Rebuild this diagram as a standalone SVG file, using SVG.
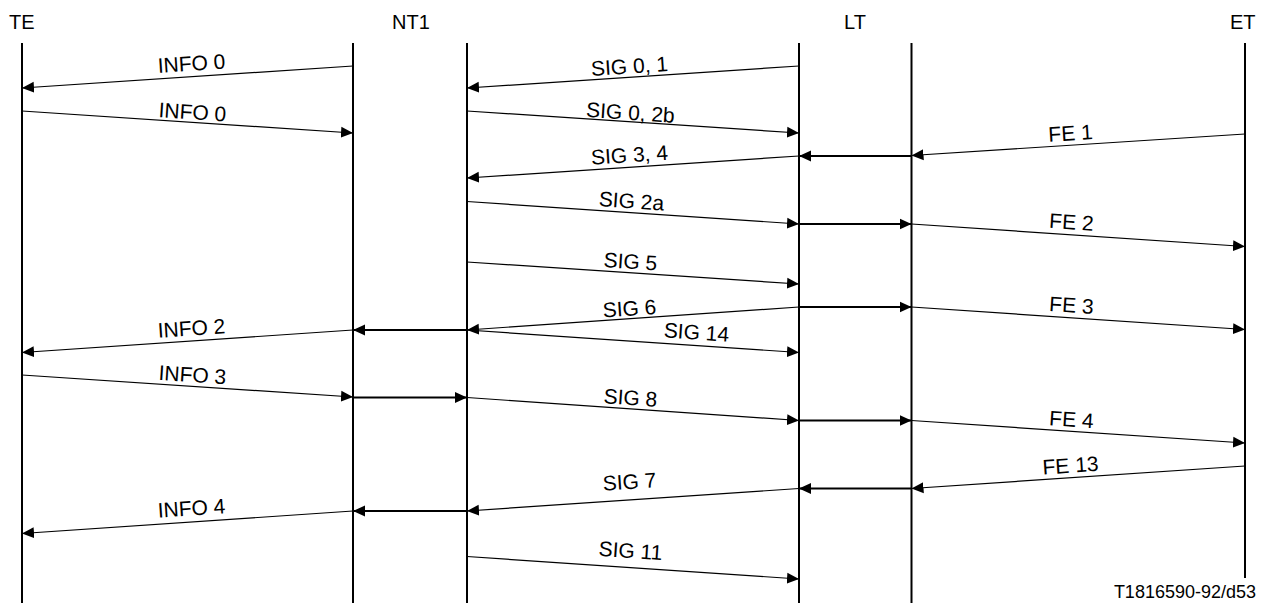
<svg xmlns="http://www.w3.org/2000/svg" width="1263" height="603" viewBox="0 0 1263 603">
<style>
  text { font-family: "Liberation Sans", Arial, sans-serif; fill: #000; }
  .hdr { font-size: 20px; }
  .lbl { font-size: 21px; text-anchor: middle; }
  .foot { font-size: 18px; text-anchor: end; }
  .life { stroke: #000; stroke-width: 2; fill: none; }
  .msg { stroke: #000; stroke-width: 1.2; fill: none; marker-end: url(#ah); }
  .relay { stroke: #000; stroke-width: 2; fill: none; marker-end: url(#ah); }
</style>
<defs>
  <marker id="ah" viewBox="0 0 12 12" markerWidth="12" markerHeight="12" markerUnits="userSpaceOnUse" refX="12" refY="6" orient="auto">
    <path d="M0,0.5 L12,6 L0,11.5 z" fill="#000"/>
  </marker>
</defs>
<rect width="1263" height="603" fill="#fff"/>

<g id="TE">
  <text class="hdr" x="9" y="29">TE</text>
  <line class="life" x1="22" y1="43" x2="22" y2="603"/>
</g>
<g id="NT1">
  <text class="hdr" x="392" y="29">NT1</text>
  <line class="life" x1="353" y1="43" x2="353" y2="603"/>
  <line class="life" x1="467" y1="43" x2="467" y2="603"/>
</g>
<g id="LT">
  <text class="hdr" x="844" y="29">LT</text>
  <line class="life" x1="799" y1="43" x2="799" y2="603"/>
  <line class="life" x1="911.5" y1="43" x2="911.5" y2="603"/>
</g>
<g id="ET">
  <text class="hdr" x="1230" y="29">ET</text>
  <line class="life" x1="1245" y1="43" x2="1245" y2="578"/>
</g>

<g id="connectors">
  <line class="msg" x1="353" y1="66" x2="22" y2="88"/>
  <line class="msg" x1="22" y1="111" x2="353" y2="133"/>
  <line class="msg" x1="799" y1="66" x2="467" y2="88"/>
  <line class="msg" x1="467" y1="111" x2="799" y2="133"/>
  <line class="msg" x1="1245" y1="134" x2="911.5" y2="155.5"/>
  <line class="relay" x1="911.5" y1="156" x2="799" y2="156"/>
  <line class="msg" x1="799" y1="156" x2="467" y2="178"/>
  <line class="msg" x1="467" y1="201.5" x2="799" y2="224"/>
  <line class="relay" x1="799" y1="224" x2="911.5" y2="224"/>
  <line class="msg" x1="911.5" y1="224" x2="1245" y2="246.5"/>
  <line class="msg" x1="467" y1="262" x2="799" y2="284"/>
  <line class="msg" x1="799" y1="307" x2="467" y2="330"/>
  <line class="relay" x1="799" y1="307" x2="911.5" y2="307"/>
  <line class="msg" x1="911.5" y1="307" x2="1245" y2="329.5"/>
  <line class="relay" x1="467" y1="330" x2="353" y2="330"/>
  <line class="msg" x1="353" y1="330" x2="22" y2="352.5"/>
  <line class="msg" x1="467" y1="330" x2="799" y2="352.5"/>
  <line class="msg" x1="22" y1="375" x2="353" y2="397"/>
  <line class="relay" x1="353" y1="397.5" x2="467" y2="397.5"/>
  <line class="msg" x1="467" y1="397.5" x2="799" y2="420.5"/>
  <line class="relay" x1="799" y1="420.5" x2="911.5" y2="420.5"/>
  <line class="msg" x1="911.5" y1="420.5" x2="1245" y2="443"/>
  <line class="msg" x1="1245" y1="466" x2="911.5" y2="488.5"/>
  <line class="relay" x1="911.5" y1="488.5" x2="799" y2="488.5"/>
  <line class="msg" x1="799" y1="488.5" x2="467" y2="511"/>
  <line class="relay" x1="467" y1="511" x2="353" y2="511"/>
  <line class="msg" x1="353" y1="511" x2="22" y2="533.5"/>
  <line class="msg" x1="467" y1="556.5" x2="799" y2="579"/>
</g>

<g id="labels">
  <text class="lbl" x="192" y="70.7" transform="rotate(-3.80 192 70.7)">INFO 0</text>
  <text class="lbl" x="192" y="119.3" transform="rotate(3.85 192 119.3)">INFO 0</text>
  <text class="lbl" x="630" y="73.5" transform="rotate(-3.79 630 73.5)">SIG 0, 1</text>
  <text class="lbl" x="630" y="119.8" transform="rotate(3.79 630 119.8)">SIG 0, 2b</text>
  <text class="lbl" x="1071" y="140.4" transform="rotate(-3.69 1071 140.4)">FE 1</text>
  <text class="lbl" x="630" y="162.2" transform="rotate(-3.79 630 162.2)">SIG 3, 4</text>
  <text class="lbl" x="631" y="208.3" transform="rotate(3.88 631 208.3)">SIG 2a</text>
  <text class="lbl" x="1071" y="229.3" transform="rotate(3.86 1071 229.3)">FE 2</text>
  <text class="lbl" x="630" y="268.8" transform="rotate(3.79 630 268.8)">SIG 5</text>
  <text class="lbl" x="630" y="315.7" transform="rotate(-3.96 630 315.7)">SIG 6</text>
  <text class="lbl" x="1071" y="312.5" transform="rotate(3.86 1071 312.5)">FE 3</text>
  <text class="lbl" x="192" y="335.5" transform="rotate(-3.89 192 335.5)">INFO 2</text>
  <text class="lbl" x="696" y="339.5" transform="rotate(3.88 696 339.5)">SIG 14</text>
  <text class="lbl" x="192" y="382.1" transform="rotate(3.80 192 382.1)">INFO 3</text>
  <text class="lbl" x="630" y="405" transform="rotate(3.96 630 405)">SIG 8</text>
  <text class="lbl" x="1071" y="426.7" transform="rotate(3.86 1071 426.7)">FE 4</text>
  <text class="lbl" x="1071" y="472.7" transform="rotate(-3.86 1071 472.7)">FE 13</text>
  <text class="lbl" x="630" y="489" transform="rotate(-3.88 630 489)">SIG 7</text>
  <text class="lbl" x="192" y="515.4" transform="rotate(-3.89 192 515.4)">INFO 4</text>
  <text class="lbl" x="630" y="558" transform="rotate(3.88 630 558)">SIG 11</text>
</g>

<text class="foot" x="1256" y="598">T1816590-92/d53</text>
</svg>
